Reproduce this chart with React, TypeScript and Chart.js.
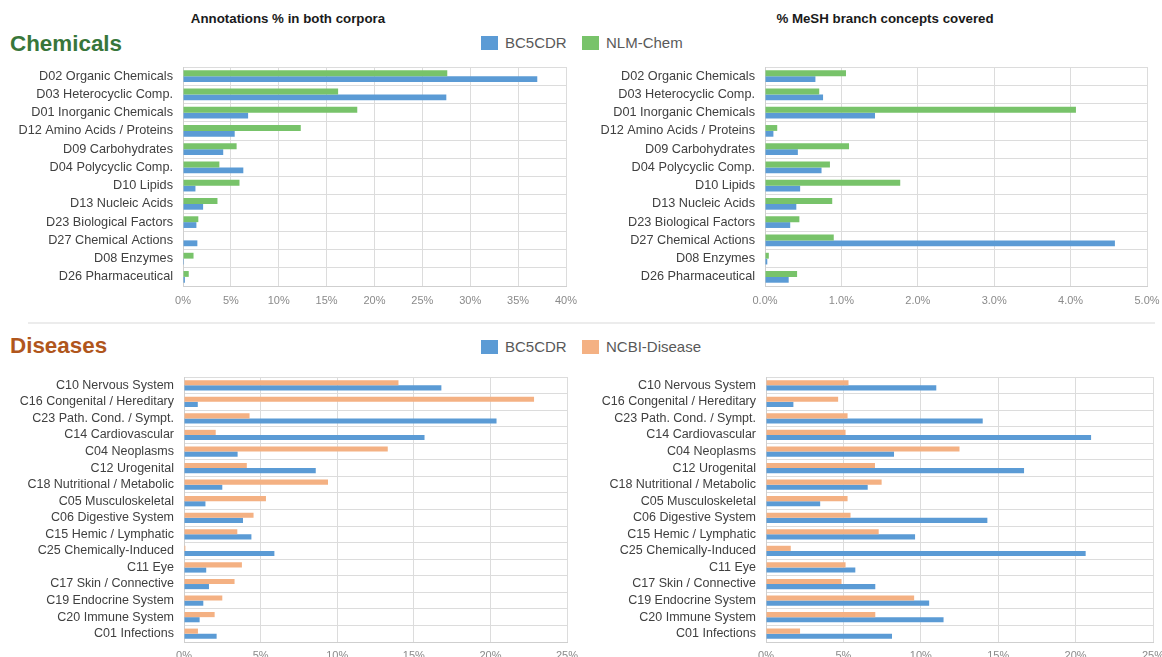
import React, { useEffect, useRef } from "react";
import { Chart, registerables } from "chart.js";
Chart.register(...registerables);

const FONT = "'Liberation Sans', Arial, sans-serif";

const chemCategories = [
  "D02 Organic Chemicals",
  "D03 Heterocyclic Comp.",
  "D01 Inorganic Chemicals",
  "D12 Amino Acids / Proteins",
  "D09 Carbohydrates",
  "D04 Polycyclic Comp.",
  "D10 Lipids",
  "D13 Nucleic Acids",
  "D23 Biological Factors",
  "D27 Chemical Actions",
  "D08 Enzymes",
  "D26 Pharmaceutical",
];
const chemAnnBC5CDR = [37.0, 27.5, 6.8, 5.4, 4.2, 6.3, 1.3, 2.1, 1.4, 1.5, 0.1, 0.2];
const chemAnnNLM = [27.6, 16.2, 18.2, 12.3, 5.6, 3.8, 5.9, 3.6, 1.6, 0, 1.1, 0.6];
const chemMeshBC5CDR = [0.66, 0.76, 1.44, 0.11, 0.43, 0.74, 0.46, 0.41, 0.33, 4.58, 0.03, 0.31];
const chemMeshNLM = [1.06, 0.71, 4.07, 0.16, 1.1, 0.85, 1.77, 0.88, 0.45, 0.9, 0.05, 0.42];

const disCategories = [
  "C10 Nervous System",
  "C16 Congenital / Hereditary",
  "C23 Path. Cond. / Sympt.",
  "C14 Cardiovascular",
  "C04 Neoplasms",
  "C12 Urogenital",
  "C18 Nutritional / Metabolic",
  "C05 Musculoskeletal",
  "C06 Digestive System",
  "C15 Hemic / Lymphatic",
  "C25 Chemically-Induced",
  "C11 Eye",
  "C17 Skin / Connective",
  "C19 Endocrine System",
  "C20 Immune System",
  "C01 Infections",
];
const disAnnBC5CDR = [16.8, 0.9, 20.4, 15.7, 3.5, 8.6, 2.5, 1.4, 3.85, 4.4, 5.9, 1.45, 1.63, 1.26, 1.02, 2.13];
const disAnnNCBI = [14.0, 22.85, 4.28, 2.07, 13.3, 4.1, 9.4, 5.35, 4.54, 3.48, 0.09, 3.78, 3.3, 2.5, 2.0, 0.91];
const disMeshBC5CDR = [11.0, 1.77, 14.0, 21.0, 8.27, 16.67, 6.57, 3.5, 14.3, 9.63, 20.65, 5.77, 7.06, 10.54, 11.47, 8.14];
const disMeshNCBI = [5.33, 4.66, 5.27, 5.14, 12.5, 7.04, 7.47, 5.27, 5.46, 7.28, 1.6, 5.14, 4.88, 9.57, 7.06, 2.2];

const chemAnnTicks = [0, 5, 10, 15, 20, 25, 30, 35, 40];
const chemMeshTicks = [0, 1, 2, 3, 4, 5];
const disTicks = [0, 5, 10, 15, 20, 25];

const BLUE = "#5b9bd5";
const GREEN = "#78c36a";
const ORANGE = "#f4b183";

type PanelProps = {
  left: number;
  top: number;
  width: number;
  height: number;
  yWidth: number;
  padRight: number;
  padTop: number;
  xHeight: number;
  labels: string[];
  first: { label: string; data: number[]; color: string };
  second: { label: string; data: number[]; color: string };
  ticks: number[];
  decimals: number;
  catPct: number;
  tickPad: number;
  labelSize: number;
};

function BarPanel(p: PanelProps) {
  const ref = useRef<HTMLCanvasElement | null>(null);
  useEffect(() => {
    if (!ref.current) return;
    const step = p.ticks[1] - p.ticks[0];
    const chart = new Chart(ref.current, {
      type: "bar",
      data: {
        labels: p.labels,
        datasets: [
          {
            label: p.first.label,
            data: p.first.data,
            backgroundColor: p.first.color,
            borderWidth: 0,
            categoryPercentage: p.catPct,
            barPercentage: 1,
          },
          {
            label: p.second.label,
            data: p.second.data,
            backgroundColor: p.second.color,
            borderWidth: 0,
            categoryPercentage: p.catPct,
            barPercentage: 1,
          },
        ],
      },
      options: {
        indexAxis: "y",
        animation: false,
        responsive: true,
        maintainAspectRatio: false,
        layout: { padding: { top: p.padTop, right: p.padRight, left: 0, bottom: 0 } },
        plugins: { legend: { display: false }, tooltip: { enabled: false } },
        scales: {
          x: {
            min: p.ticks[0],
            max: p.ticks[p.ticks.length - 1],
            border: { display: true, color: "#cfcfcf" },
            grid: { color: "#dcdcdc", drawTicks: false },
            ticks: {
              stepSize: step,
              padding: p.tickPad,
              maxRotation: 0,
              color: "#8a8a8a",
              font: { family: FONT, size: 11 },
              callback: (v: any) => Number(v).toFixed(p.decimals) + "%",
            },
            afterFit: (s: any) => {
              s.height = p.xHeight;
              s.paddingLeft = 0;
              s.paddingRight = 0;
            },
          },
          y: {
            border: { display: true, color: "#cfcfcf" },
            grid: { color: "#dcdcdc", drawTicks: false },
            ticks: {
              autoSkip: false,
              padding: 10,
              color: "#404040",
              font: { family: FONT, size: p.labelSize, lineHeight: 1 },
            },
            afterFit: (s: any) => {
              s.width = p.yWidth;
              s.paddingTop = 0;
              s.paddingBottom = 0;
            },
          },
        },
      },
    });
    return () => chart.destroy();
  }, []);
  return (
    <div
      style={{
        position: "absolute",
        left: p.left,
        top: p.top,
        width: p.width,
        height: p.height,
      }}
    >
      <canvas ref={ref} />
    </div>
  );
}

function LegendItem({ x, y, color, text }: { x: number; y: number; color: string; text: string }) {
  return (
    <div
      style={{
        position: "absolute",
        left: x,
        top: y,
        display: "flex",
        alignItems: "center",
        fontFamily: FONT,
        fontSize: 15,
        color: "#595959",
        whiteSpace: "nowrap",
      }}
    >
      <span style={{ display: "inline-block", width: 17, height: 14, background: color, marginRight: 7 }} />
      {text}
    </div>
  );
}

function Text({ x, y, size, color, bold, children, center }: any) {
  return (
    <div
      style={{
        position: "absolute",
        left: center ? x - 200 : x,
        width: center ? 400 : undefined,
        textAlign: center ? "center" : "left",
        top: y,
        fontFamily: FONT,
        fontSize: size,
        fontWeight: bold ? "bold" : "normal",
        color,
        whiteSpace: "nowrap",
        lineHeight: 1,
      }}
    >
      {children}
    </div>
  );
}

export default function App() {
  return (
    <div
      style={{
        position: "absolute",
        left: 0,
        top: 0,
        width: 1162,
        height: 657,
        overflow: "hidden",
        background: "#ffffff",
      }}
    >
      <Text x={288} y={12} size={13.3} color="#1a1a1a" bold center>
        Annotations % in both corpora
      </Text>
      <Text x={885} y={12} size={13.3} color="#1a1a1a" bold center>
        % MeSH branch concepts covered
      </Text>
      <Text x={10} y={33} size={22.4} color="#38763a" bold>
        Chemicals
      </Text>
      <LegendItem x={481} y={34} color={BLUE} text="BC5CDR" />
      <LegendItem x={582} y={34} color={GREEN} text="NLM-Chem" />

      <BarPanel
        left={0}
        top={60}
        width={580}
        height={255}
        yWidth={183}
        padRight={14}
        padTop={7}
        xHeight={29}
        labels={chemCategories}
        first={{ label: "NLM-Chem", data: chemAnnNLM, color: GREEN }}
        second={{ label: "BC5CDR", data: chemAnnBC5CDR, color: BLUE }}
        ticks={chemAnnTicks}
        decimals={0}
        catPct={0.64}
        tickPad={8}
        labelSize={12.7}
      />
      <BarPanel
        left={580}
        top={60}
        width={582}
        height={255}
        yWidth={185}
        padRight={15}
        padTop={7}
        xHeight={29}
        labels={chemCategories}
        first={{ label: "NLM-Chem", data: chemMeshNLM, color: GREEN }}
        second={{ label: "BC5CDR", data: chemMeshBC5CDR, color: BLUE }}
        ticks={chemMeshTicks}
        decimals={1}
        catPct={0.64}
        tickPad={8}
        labelSize={12.7}
      />

      <div
        style={{
          position: "absolute",
          left: 28,
          top: 322,
          width: 1127,
          height: 2,
          background: "#ececec",
        }}
      />

      <Text x={10} y={335} size={22.4} color="#b0561c" bold>
        Diseases
      </Text>
      <LegendItem x={481} y={338} color={BLUE} text="BC5CDR" />
      <LegendItem x={582} y={338} color={ORANGE} text="NCBI-Disease" />

      <BarPanel
        left={0}
        top={370}
        width={580}
        height={287}
        yWidth={184}
        padRight={13}
        padTop={7}
        xHeight={15}
        labels={disCategories}
        first={{ label: "NCBI-Disease", data: disAnnNCBI, color: ORANGE }}
        second={{ label: "BC5CDR", data: disAnnBC5CDR, color: BLUE }}
        ticks={disTicks}
        decimals={0}
        catPct={0.62}
        tickPad={7}
        labelSize={12.5}
      />
      <BarPanel
        left={580}
        top={370}
        width={582}
        height={287}
        yWidth={186}
        padRight={9}
        padTop={7}
        xHeight={15}
        labels={disCategories}
        first={{ label: "NCBI-Disease", data: disMeshNCBI, color: ORANGE }}
        second={{ label: "BC5CDR", data: disMeshBC5CDR, color: BLUE }}
        ticks={disTicks}
        decimals={0}
        catPct={0.62}
        tickPad={7}
        labelSize={12.5}
      />
    </div>
  );
}
